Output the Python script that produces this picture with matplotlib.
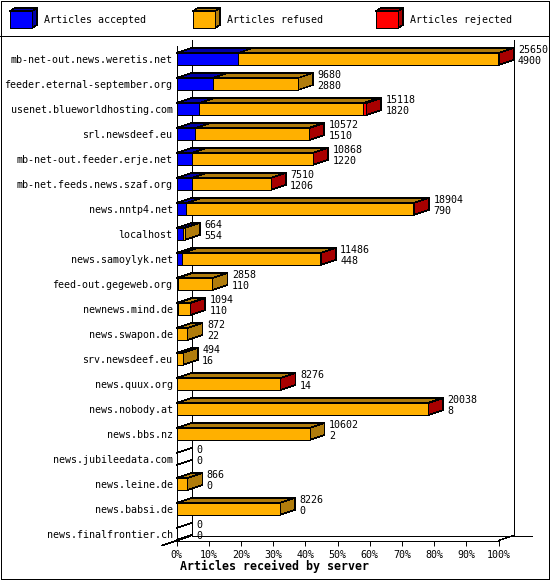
#!/usr/bin/env python3
"""Articles received by server, fake-3D stacked bars."""
import matplotlib
matplotlib.use("Agg")
import matplotlib.pyplot as plt
from matplotlib.patches import Polygon, Rectangle

servers = [
    "mb-net-out.news.weretis.net", "feeder.eternal-september.org",
    "usenet.blueworldhosting.com", "srl.newsdeef.eu",
    "mb-net-out.feeder.erje.net", "mb-net.feeds.news.szaf.org",
    "news.nntp4.net", "localhost", "news.samoylyk.net",
    "feed-out.gegeweb.org", "newnews.mind.de", "news.swapon.de",
    "srv.newsdeef.eu", "news.quux.org", "news.nobody.at", "news.bbs.nz",
    "news.jubileedata.com", "news.leine.de", "news.babsi.de",
    "news.finalfrontier.ch",
]
totals = [25650, 9680, 15118, 10572, 10868, 7510, 18904, 664, 11486, 2858,
          1094, 872, 494, 8276, 20038, 10602, 0, 866, 8226, 0]
accepted = [4900, 2880, 1820, 1510, 1220, 1206, 790, 554, 448, 110,
            110, 22, 16, 14, 8, 2, 0, 0, 0, 0]
# rejected is not printed, estimated from the red slivers
rejected = [20, 0, 260, 30, 30, 20, 30, 0, 30, 0,
            30, 0, 0, 20, 20, 0, 0, 0, 0, 0]
pct_ticks = [0, 10, 20, 30, 40, 50, 60, 70, 80, 90, 100]
legend_names = ["Articles accepted", "Articles refused", "Articles rejected"]

FRONT = ["#0000ff", "#ffb000", "#ff0000"]
TOP = ["#0000a8", "#b07c0c", "#a80000"]
SIDE = ["#0000a8", "#b07c0c", "#a80000"]

W, H = 550, 580
X0, X1 = 176.5, 498.5
Y_TOP, Y_BOT = 45.5, 540.5
ROW_PX = 25.0
ROW0 = 59.0
DX_PX, DY_PX = 15.0, 5.0
PX = 0.72  # points per pixel at dpi 100
LW = 0.7
THIN = 0.45  # slanted aliased lines come out fat otherwise

plt.rcParams["font.family"] = ["DejaVu Sans Mono"]
plt.rcParams["text.antialiased"] = True
plt.rcParams["patch.antialiased"] = False
plt.rcParams["lines.antialiased"] = False

fig = plt.figure(figsize=(W / 100, H / 100), dpi=100, facecolor="white")

# pixel overlay for frame, legend and axis furniture
bg = fig.add_axes([0, 0, 1, 1], zorder=0)
bg.set_xlim(0, W)
bg.set_ylim(H, 0)
bg.axis("off")
bg.add_patch(Rectangle((0.5, 0.5), W - 1.6, H - 1.6, fill=False, ec="black", lw=LW))
bg.plot([0, W], [35.5, 35.5], color="black", lw=LW)
bg.plot([191.5, 191.5], [40, 535], color="black", lw=LW)
bg.plot([513.5, 513.5], [40, 535], color="black", lw=LW)
bg.plot([192, 532], [535.5, 535.5], color="black", lw=LW)
bg.plot([162, 191.5], [545.5, 535.5], color="black", lw=THIN)
bg.plot([498.5, 513.5], [540.5, 535.5], color="black", lw=THIN)

for lx, name, front, dark in zip([10, 193, 376], legend_names, FRONT, SIDE):
    bg.add_patch(Polygon([(lx, 11), (lx + 5, 8), (lx + 27, 8), (lx + 22, 11)],
                         fc=dark, ec="black", lw=THIN))
    bg.add_patch(Polygon([(lx + 22, 11), (lx + 27, 8), (lx + 27, 25), (lx + 22, 28)],
                         fc=dark, ec="black", lw=THIN))
    bg.add_patch(Rectangle((lx, 11), 22, 17, fc=front, ec="black", lw=LW))
    bg.text(lx + 34, 20, name, fontsize=10 * PX, ha="left", va="center")

bg.text(274, 566, "Articles received by server", fontsize=11.6 * PX,
        fontweight="bold", ha="center", va="center")

# bars live on a real count scale, rows are categories
ax = fig.add_axes([X0 / W, 1 - Y_BOT / H, (X1 - X0) / W, (Y_BOT - Y_TOP) / H], zorder=1)
ax.patch.set_alpha(0)
xmax = max(totals)
ax.set_xlim(0, xmax)
ax.set_ylim((Y_BOT - ROW0) / ROW_PX, (Y_TOP - ROW0) / ROW_PX)
for s in ("top", "right"):
    ax.spines[s].set_visible(False)
for s in ("left", "bottom"):
    ax.spines[s].set_linewidth(LW)

ax.set_yticks(range(len(servers)))
ax.set_yticklabels(servers, fontsize=10 * PX)
ax.tick_params(axis="y", length=0, pad=4 * PX)
ax.set_xticks([xmax * p / 100 for p in pct_ticks])
ax.set_xticklabels([f"{p}%" for p in pct_ticks], fontsize=10 * PX)
ax.tick_params(axis="x", length=5 * PX, width=LW, pad=4 * PX)

dx = DX_PX / (X1 - X0) * xmax
dy = DY_PX / ROW_PX
half = 6.0 / ROW_PX


def draw_segment(row, left, right, idx, with_side):
    top, bot = row - half, row + half
    ax.add_patch(Polygon([(left, top), (left + dx, top - dy), (right + dx, top - dy), (right, top)],
                         fc=TOP[idx], ec="black", lw=THIN, clip_on=False, zorder=3))
    if with_side:
        ax.add_patch(Polygon([(right, top), (right + dx, top - dy), (right + dx, bot - dy), (right, bot)],
                             fc=SIDE[idx], ec="black", lw=THIN, clip_on=False, zorder=3))
    ax.add_patch(Rectangle((left, top), right - left, bot - top,
                           fc=FRONT[idx], ec="black", lw=LW, clip_on=False, zorder=4))


for row, (total, acc, rej) in enumerate(zip(totals, accepted, rejected)):
    if total == 0:
        for yy in (row - half, row + half):
            ax.plot([0, dx], [yy, yy - dy], color="black", lw=THIN, clip_on=False, zorder=3)
    else:
        parts = [acc, total - acc - rej, rej]
        last = max(i for i, v in enumerate(parts) if v > 0)
        start = 0
        for i, v in enumerate(parts):
            if v > 0:
                draw_segment(row, start, start + v, i, i == last)
                start += v
    for val, off in ((total, 9), (acc, -2)):
        ax.annotate(str(val), xy=(total, row), xytext=(19.5 * PX, off * PX),
                    textcoords="offset points", fontsize=10 * PX,
                    ha="left", va="center", annotation_clip=False, zorder=5)

fig.savefig("out.png", dpi=100, facecolor="white")
